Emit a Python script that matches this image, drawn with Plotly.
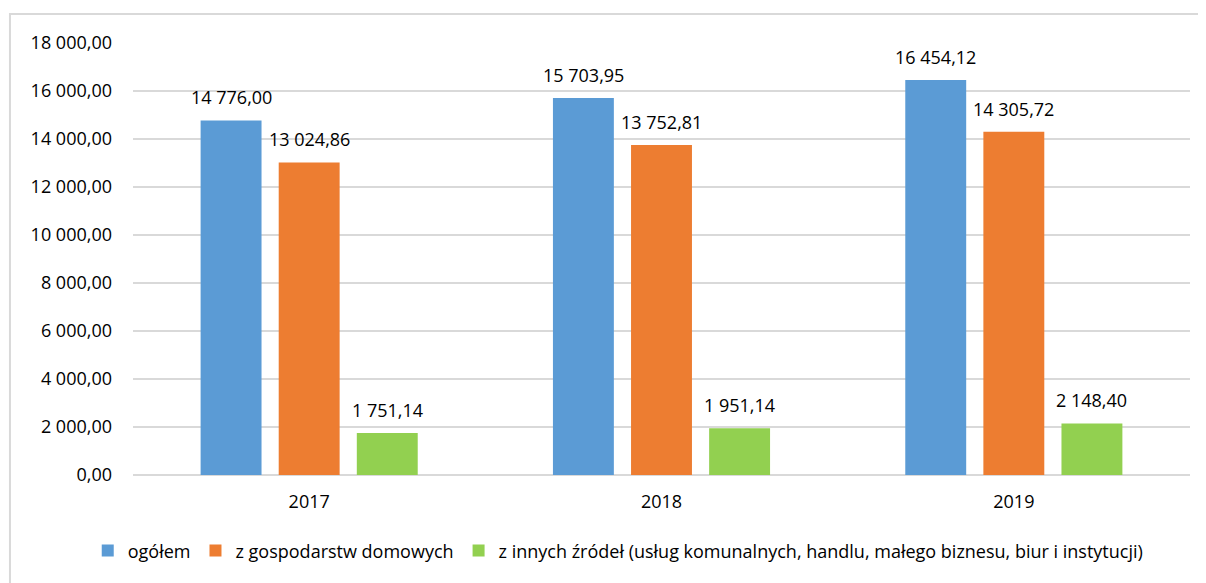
import plotly.graph_objects as go

lata = ['2017', '2018', '2019']
ogolem = [14776.00, 15703.95, 16454.12]
gospodarstwa = [13024.86, 13752.81, 14305.72]
inne = [1751.14, 1951.14, 2148.40]

serie = [
    ('ogółem', ogolem, '#5B9BD5'),
    ('z gospodarstw domowych', gospodarstwa, '#ED7D31'),
    ('z innych źródeł (usług komunalnych, handlu, małego biznesu, biur i instytucji)', inne, '#92D050'),
]

font = 'Open Sans, Noto Sans, sans-serif'


def fmt(v):
    # 14776.0 -> "14 776,00"
    return f'{v:,.2f}'.replace(',', ' ').replace('.', ',')


fig = go.Figure()
for i, (nazwa, wartosci, kolor) in enumerate(serie):
    fig.add_trace(go.Bar(
        x=lata,
        y=wartosci,
        name=nazwa,
        marker=dict(color=kolor, line=dict(width=0)),
        hoverinfo='y',
    ))
    # etykiety danych nad słupkami (jako adnotacje, żeby nie były zmniejszane)
    # x jako indeks kategorii, bo '2017' byłoby czytane jako liczba
    for j, v in enumerate(wartosci):
        fig.add_annotation(x=j, y=v, text=fmt(v), showarrow=False,
                           xshift=(i - 1) * 78, yshift=9, yanchor='bottom',
                           font=dict(size=18, color='#000000'))

# Ramka wokół wykresu
fig.add_shape(type='rect', xref='paper', yref='paper',
              x0=-0.1164, x1=1.1, y0=-0.3, y1=1.067,
              line=dict(color='#d9d9d9', width=2), fillcolor='rgba(0,0,0,0)')

fig.update_layout(
    width=1206, height=583,
    margin=dict(l=125, r=24, t=35, b=116),
    paper_bgcolor='white', plot_bgcolor='white',
    font=dict(family=font, size=18, color='#000000'),
    barmode='group',
    bargap=0.335,
    bargroupgap=0.22,
    showlegend=True,
    legend=dict(orientation='h', xref='container', x=0.506, xanchor='center',
                yref='container', y=0.069, yanchor='middle',
                font=dict(size=18), itemwidth=30, traceorder='normal'),
    xaxis=dict(type='category', range=[-0.5, 2.5], showgrid=False, showline=False,
               ticks='', ticklabelstandoff=14, tickfont=dict(size=18)),
    yaxis=dict(range=[0, 18000], dtick=2000, tickformat=',.2f', separatethousands=True,
               showgrid=True, gridcolor='#d9d9d9', gridwidth=1.5,
               zeroline=True, zerolinecolor='#d9d9d9', zerolinewidth=1.5,
               ticks='', ticklabelstandoff=20, tickfont=dict(size=18)),
    separators=', ',
)

fig.write_html('out.html')
